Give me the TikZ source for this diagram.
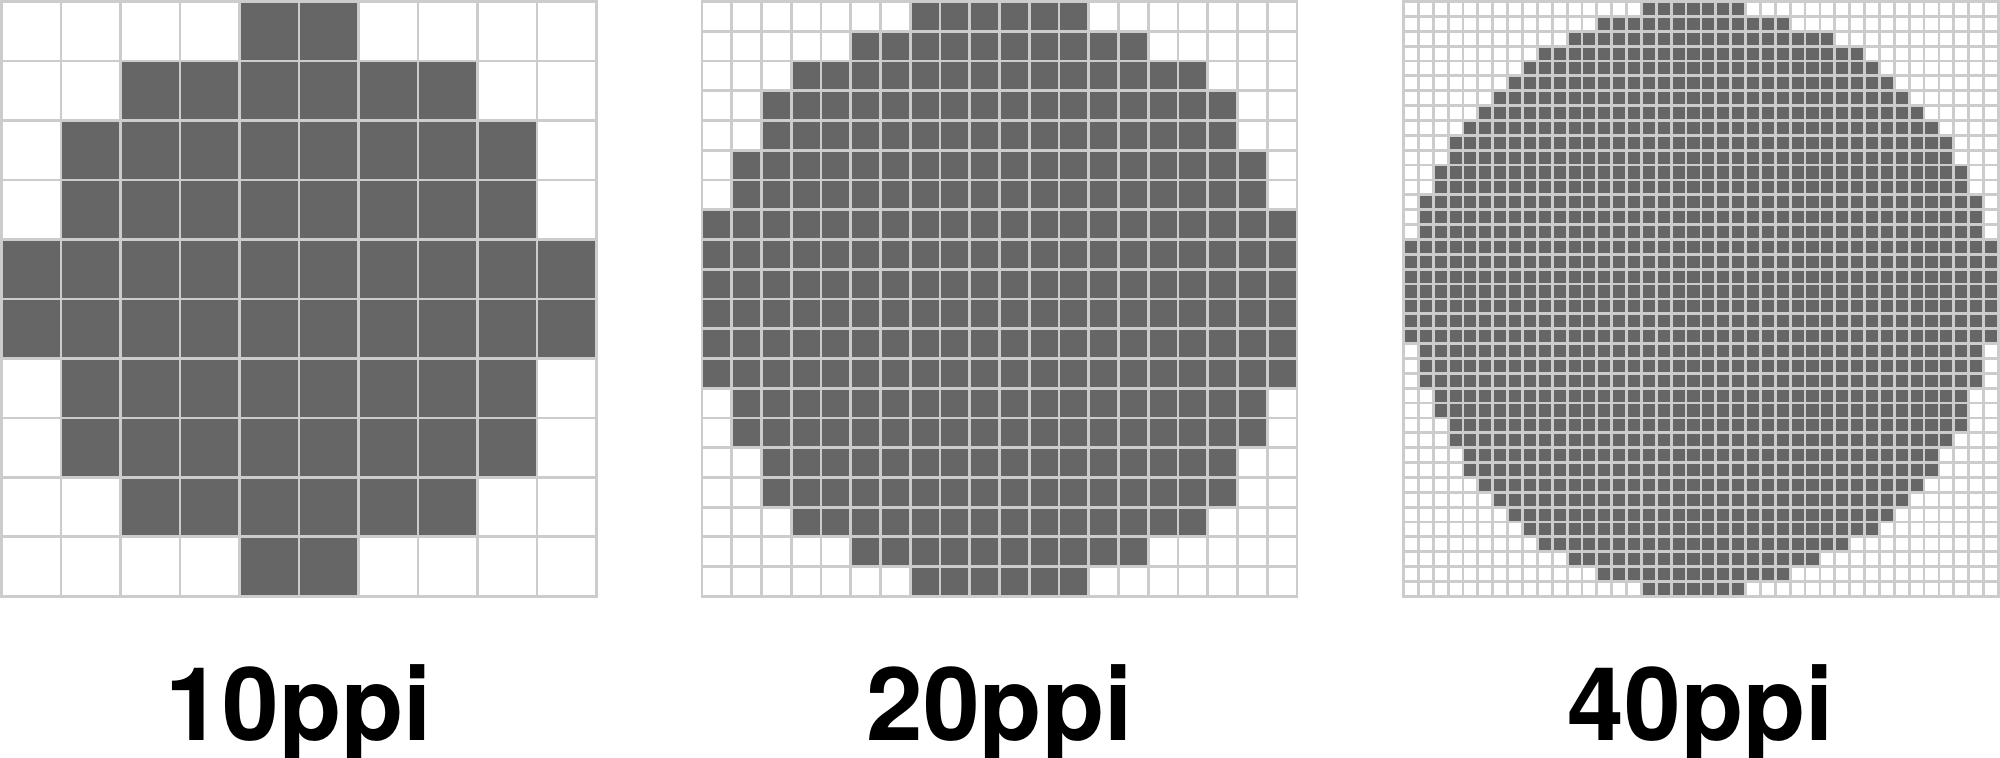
\documentclass[tikz,border=0pt]{standalone}
\usepackage{fontspec}
\setmainfont{TeX Gyre Heros}
\usepackage{tikz}
\usetikzlibrary{positioning}
\definecolor{pixgray}{HTML}{666666}
\definecolor{linegray}{HTML}{CCCCCC}
\tikzstyle{pixel} = [fill=pixgray]
\tikzstyle{gridline} = [draw=linegray, line width=0.056cm, line cap=rect]
\tikzstyle{ppilabel} = [anchor=base, inner sep=0pt, font=\bfseries\fontsize{58}{62}\selectfont]

\begin{document}
\begin{tikzpicture}[x=0.02cm, y=0.02cm]
\useasboundingbox (0,0) rectangle (2000,757);

% 10ppi grid
\begin{scope}[shift={(1.5,755.5)}, x=1.19cm, y=-1.19cm]
\foreach \r/\a/\b in {0/4/5, 1/2/7, 2/1/8, 3/1/8, 4/0/9, 5/0/9, 6/1/8, 7/1/8, 8/2/7, 9/4/5}
  \fill[pixel] (\a,\r) rectangle ({\b+1},{\r+1});
\foreach \i in {0,...,10} {
  \draw[gridline] (\i,0) -- (\i,10);
  \draw[gridline] (0,\i) -- (10,\i);
}
\end{scope}

% 20ppi grid
\begin{scope}[shift={(702,755.5)}, x=0.595cm, y=-0.595cm]
\foreach \r/\a/\b in {0/7/12, 1/5/14, 2/3/16, 3/2/17, 4/2/17, 5/1/18, 6/1/18, 7/0/19, 8/0/19, 9/0/19,
  10/0/19, 11/0/19, 12/0/19, 13/1/18, 14/1/18, 15/2/17, 16/2/17, 17/3/16, 18/5/14, 19/7/12}
  \fill[pixel] (\a,\r) rectangle ({\b+1},{\r+1});
\foreach \i in {0,...,20} {
  \draw[gridline] (\i,0) -- (\i,20);
  \draw[gridline] (0,\i) -- (20,\i);
}
\end{scope}

% 40ppi grid
\begin{scope}[shift={(1403.5,755.5)}, x=0.2975cm, y=-0.2975cm]
\foreach \r/\a/\b in {0/16/22, 1/13/25, 2/11/28, 3/9/30, 4/8/31, 5/7/32, 6/6/33, 7/5/34, 8/4/35, 9/3/36,
  10/3/36, 11/2/37, 12/2/37, 13/1/38, 14/1/38, 15/1/38, 16/0/39, 17/0/39, 18/0/39, 19/0/39,
  20/0/39, 21/0/39, 22/0/39, 23/1/38, 24/1/38, 25/1/38, 26/2/37, 27/2/37, 28/3/37, 29/3/36,
  30/4/35, 31/4/35, 32/5/34, 33/6/33, 34/7/32, 35/8/31, 36/9/29, 37/11/27, 38/13/25, 39/16/22}
  \fill[pixel] (\a,\r) rectangle ({\b+1},{\r+1});
\foreach \i in {0,...,40} {
  \draw[gridline] (\i,0) -- (\i,40);
  \draw[gridline] (0,\i) -- (40,\i);
}
\end{scope}

% Labels
\node (lbl10) [ppilabel] at (299,17) {10ppi};
\node (lbl20) [ppilabel] at (999.5,17) {20ppi};
\node (lbl40) [ppilabel] at (1701,17) {40ppi};

\end{tikzpicture}
\end{document}
